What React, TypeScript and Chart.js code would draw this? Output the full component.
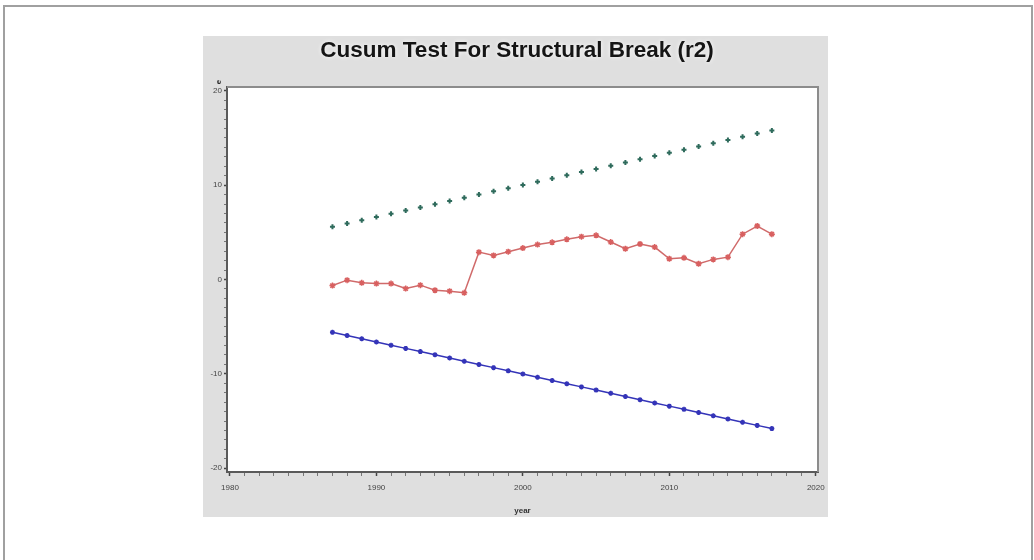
import React, { useEffect, useRef } from "react";
import { Chart, registerables } from "chart.js";

Chart.register(...registerables);

const years = [
  1987, 1988, 1989, 1990, 1991, 1992, 1993, 1994, 1995, 1996,
  1997, 1998, 1999, 2000, 2001, 2002, 2003, 2004, 2005, 2006,
  2007, 2008, 2009, 2010, 2011, 2012, 2013, 2014, 2015, 2016, 2017,
];

const cusum = [
  -0.64, -0.07, -0.35, -0.43, -0.43, -0.96, -0.6, -1.14, -1.24, -1.41,
  2.9, 2.55, 2.95, 3.33, 3.7, 3.94, 4.26, 4.54, 4.68, 3.97,
  3.26, 3.76, 3.44, 2.2, 2.3, 1.67, 2.13, 2.37, 4.8, 5.67, 4.8,
];

const upperBound = [
  5.6, 5.94, 6.28, 6.62, 6.96, 7.3, 7.64, 7.98, 8.32, 8.66,
  9.0, 9.34, 9.68, 10.02, 10.36, 10.7, 11.04, 11.38, 11.72, 12.06,
  12.4, 12.74, 13.08, 13.42, 13.76, 14.1, 14.44, 14.78, 15.12, 15.46, 15.8,
];

const lowerBound = [
  -5.6, -5.94, -6.28, -6.62, -6.96, -7.3, -7.64, -7.98, -8.32, -8.66,
  -9.0, -9.34, -9.68, -10.02, -10.36, -10.7, -11.04, -11.38, -11.72, -12.06,
  -12.4, -12.74, -13.08, -13.42, -13.76, -14.1, -14.44, -14.78, -15.12, -15.46, -15.8,
];

const titleText = "Cusum Test For Structural Break (r2)";
const xAxisLabel = "year";
const yAxisLabel = "e";

const FONT = '"Liberation Sans", Arial, sans-serif';

const decorPlugin = {
  id: "decor",
  beforeDraw(chart: any) {
    const { ctx, chartArea } = chart;
    ctx.save();
    ctx.fillStyle = "#ffffff";
    ctx.fillRect(chartArea.left, chartArea.top, chartArea.right - chartArea.left, chartArea.bottom - chartArea.top);
    ctx.restore();
  },
  afterDraw(chart: any) {
    const { ctx, chartArea } = chart;
    ctx.save();
    ctx.strokeStyle = "#8c8c8c";
    ctx.lineWidth = 2;
    ctx.beginPath();
    ctx.moveTo(chartArea.left, chartArea.top);
    ctx.lineTo(chartArea.right, chartArea.top);
    ctx.lineTo(chartArea.right, chartArea.bottom);
    ctx.stroke();
    ctx.font = `bold 22.5px ${FONT}`;
    ctx.textAlign = "center";
    ctx.textBaseline = "middle";
    ctx.shadowColor = "rgba(255,255,255,0.95)";
    ctx.shadowBlur = 4;
    ctx.fillStyle = "#151515";
    ctx.fillText(titleText, 314, 15);
    ctx.shadowBlur = 0;
    ctx.font = `bold 8px ${FONT}`;
    ctx.fillStyle = "#333";
    ctx.fillText(xAxisLabel, (chartArea.left + chartArea.right) / 2, 475);
    ctx.translate(16, 46);
    ctx.rotate(-Math.PI / 2);
    ctx.font = `bold 8px ${FONT}`;
    ctx.fillText(yAxisLabel, 0, 0);
    ctx.restore();
  },
};

export default function App() {
  const canvasRef = useRef<HTMLCanvasElement | null>(null);

  useEffect(() => {
    if (!canvasRef.current) return;
    const toPts = (vals: number[]) => years.map((y, i) => ({ x: y, y: vals[i] }));
    const chart = new Chart(canvasRef.current, {
      type: "line",
      data: {
        datasets: [
          {
            label: "upper",
            data: toPts(upperBound),
            showLine: false,
            pointStyle: "cross",
            pointRadius: 2.5,
            pointBorderWidth: 2,
            borderColor: "#2f6b5c",
            backgroundColor: "#2f6b5c",
          },
          {
            label: "lower",
            data: toPts(lowerBound),
            borderColor: "#3434b8",
            backgroundColor: "#3434b8",
            borderWidth: 1.5,
            pointStyle: "star",
            pointRadius: 2.5,
            pointBorderWidth: 1.5,
          },
          {
            label: "cusum",
            data: toPts(cusum),
            borderColor: "#d06a6a",
            backgroundColor: "#d86060",
            borderWidth: 1.5,
            pointStyle: "star",
            pointRadius: 3,
            pointBorderWidth: 1.5,
            pointBorderColor: "#d86060",
          },
        ],
      },
      options: {
        animation: false,
        responsive: false,
        maintainAspectRatio: false,
        layout: { padding: { top: 51, right: 10, left: 0, bottom: 0 } },
        plugins: {
          legend: { display: false },
          tooltip: { enabled: false },
          title: { display: false },
        },
        scales: {
          x: {
            type: "linear",
            min: 1979.8,
            max: 2020.15,
            afterFit: (s: any) => {
              s.height = 45;
              s.paddingRight = 0;
              s.paddingLeft = 0;
            },
            border: { display: true, color: "#5a5a5a", width: 2 },
            grid: {
              drawOnChartArea: false,
              drawTicks: true,
              tickLength: 4,
              tickColor: (c: any) => (c.tick && c.tick.value % 10 === 0 ? "#444" : "#777"),
              tickWidth: (c: any) => (c.tick && c.tick.value % 10 === 0 ? 1.5 : 1),
            },
            ticks: {
              stepSize: 1,
              autoSkip: false,
              includeBounds: false,
              maxRotation: 0,
              padding: 7,
              color: "#444",
              font: { size: 8, family: FONT },
              callback: (v: any) => (Number(v) % 10 === 0 ? String(v) : ""),
            },
          },
          y: {
            type: "linear",
            min: -20.4,
            max: 20.4,
            afterFit: (s: any) => {
              s.width = 24;
              s.paddingTop = 0;
              s.paddingBottom = 0;
            },
            border: { display: true, color: "#5a5a5a", width: 2 },
            grid: {
              drawOnChartArea: false,
              drawTicks: true,
              tickLength: 3,
              tickColor: (c: any) => (c.tick && c.tick.value % 10 === 0 ? "#444" : "#777"),
              tickWidth: (c: any) => (c.tick && c.tick.value % 10 === 0 ? 1.5 : 1),
            },
            ticks: {
              stepSize: 1,
              autoSkip: false,
              includeBounds: false,
              padding: 2,
              color: "#444",
              font: { size: 8, family: FONT },
              callback: (v: any) => (Number(v) % 10 === 0 ? String(v) : ""),
            },
          },
        },
      } as any,
      plugins: [decorPlugin],
    });
    return () => chart.destroy();
  }, []);

  return (
    <div style={{ position: "fixed", left: 0, top: 0, right: 0, bottom: 0, overflow: "hidden", background: "#fff" }}>
      <div
        style={{
          position: "absolute",
          left: 3,
          top: 5,
          width: 1030,
          height: 620,
          border: "2px solid #a0a0a0",
          boxSizing: "border-box",
        }}
      />
      <div style={{ position: "absolute", left: 203, top: 36, width: 625, height: 481, background: "#dfdfdf" }}>
        <canvas ref={canvasRef} width={625} height={481} style={{ display: "block" }} />
      </div>
    </div>
  );
}
